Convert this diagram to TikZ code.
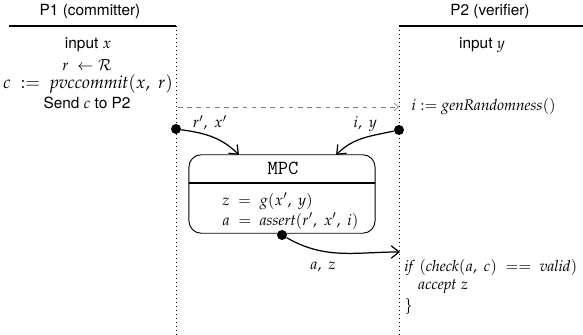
\documentclass[tikz,border=0pt]{standalone}
\usepackage{mathpazo}
\usepackage{fontspec}
\setmainfont{TeX Gyre Heros}
\usetikzlibrary{arrows.meta}

\tikzset{
  lifeline/.style={black, dotted, line width=.6pt},
  party/.style={black, line width=1.2pt},
  msg/.style={black, thick, -{Straight Barb[length=5pt,width=8pt]}},
  plainmsg/.style={gray, dashed, -{Straight Barb[length=3pt,width=5pt]}},
  dot/.style={circle, fill=black, inner sep=0pt, minimum size=6.5pt},
}

\begin{document}
\begin{tikzpicture}[x=0.65pt, y=-0.65pt]

\useasboundingbox (0,0) rectangle (583,335);

% parties
\node (pone) at (90,12) {P1 (committer)};
\node (ptwo) at (490,12) {P2 (verifier)};
\draw[party] (9,26) -- (176,26);
\draw[party] (399,26) -- (583,26);
\draw[lifeline] (176,26) -- (176,335);
\draw[lifeline] (399,26) -- (399,335);

% committer side
\node (inx) at (88,45) {input $x$};
\node (rnd) at (87,65) {$r\ \leftarrow \mathcal{R}$};
\node[font=\fontsize{11.5}{13}\selectfont] (com) at (88,84) {$c\ :=\ \mathit{pvccommit}(x,\ r)$};
\node (send) at (87,103) {Send $c$ to P2};

% verifier side
\node (iny) at (482,45) {input $y$};
\node[anchor=west] (gen) at (406,107) {$i := \mathit{genRandomness}()$};
\coordinate (sendend) at (399,107);
\draw[plainmsg] (178,107) -- (sendend);

% MPC box
\node[draw, rounded corners=8pt, minimum width=121pt, minimum height=51pt, line width=.6pt] (mpc) at (282,194) {};
\draw[line width=1pt] (189,183) -- (375,183);
\node[font=\ttfamily\fontsize{13}{15}\selectfont] (mpctitle) at (283,168) {MPC};
\node[anchor=west] (zeq) at (217,201) {$z\ =\ g(x',\ y)$};
\node[anchor=west] (aeq) at (217,221) {$a\ =\ \mathit{assert}(r',\ x',\ i)$};

% inputs and outputs
\node[dot] (dotone) at (176,129) {};
\node[dot] (dottwo) at (399,130) {};
\node[dot] (dotout) at (282,235) {};
\coordinate (inone) at (239,155);
\coordinate (intwo) at (336,155);
\coordinate (outend) at (400,252);
\draw[msg] (dotone) to[out=-8,in=135] node[above, pos=.45] {$r',\ x'$} (inone);
\draw[msg] (dottwo) to[out=192,in=45] node[above, pos=.45] {$i,\ y$} (intwo);
\draw[msg] (dotout) to[out=-30,in=180] node[below, pos=.33, yshift=-3pt] {$a,\ z$} (outend);

% verification
\node[anchor=west] (chk) at (399,268) {$\mathit{if}\ (\mathit{check}(a,\ c)\ ==\ \mathit{valid})$};
\node[anchor=west] (acc) at (413,287) {$\mathit{accept}\ z$};
\node[anchor=west] (brace) at (399,306) {$\}$};

\end{tikzpicture}
\end{document}
